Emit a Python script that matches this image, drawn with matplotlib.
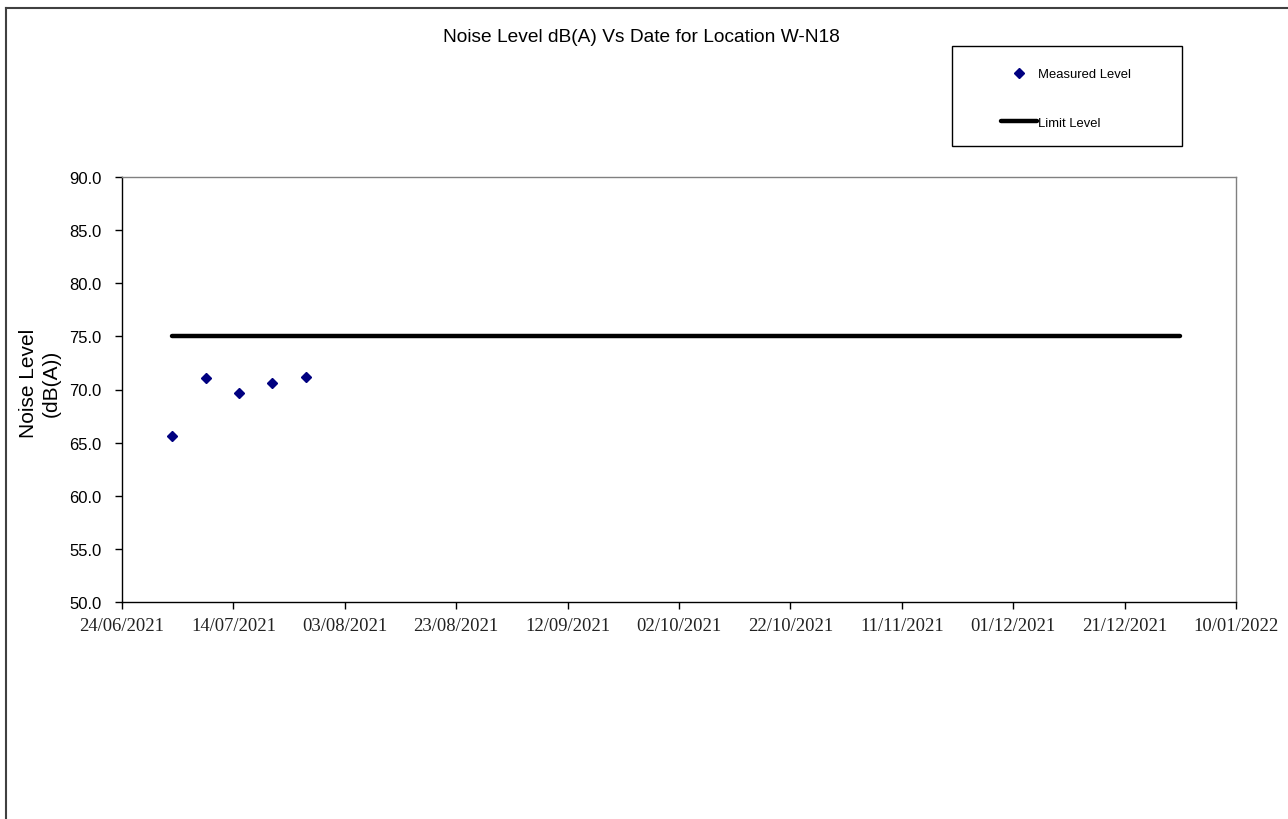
import pandas as pd
import matplotlib.pyplot as plt
import matplotlib.dates as mdates
from matplotlib.patches import Rectangle
from matplotlib.lines import Line2D

# measured data
measure_dates = pd.to_datetime(['2021-07-03', '2021-07-09', '2021-07-15',
                                '2021-07-21', '2021-07-27'])
measured_level = [65.6, 71.1, 69.7, 70.6, 71.2]

# limit line
limit_dates = pd.to_datetime(['2021-07-03', '2021-12-31'])
limit_level = [75.0, 75.0]

x_start = pd.Timestamp('2021-06-24')
x_end = pd.Timestamp('2022-01-10')
x_ticks = pd.date_range(x_start, x_end, freq='20D')
y_ticks = [50, 55, 60, 65, 70, 75, 80, 85, 90]

W, H = 1288, 820
fig = plt.figure(figsize=(W / 100, H / 100), dpi=100)
fig.patch.set_facecolor('white')

ax = fig.add_axes([122 / W, 1 - 603 / H, (1236 - 122) / W, (603 - 178) / H])

limit_line, = ax.plot(limit_dates, limit_level, color='black', linewidth=3.2,
                      solid_capstyle='round', label='Limit Level', zorder=3)
meas_pts, = ax.plot(measure_dates, measured_level, linestyle='none', marker='D',
                    markersize=4.6, color='#000080', label='Measured Level', zorder=4)

ax.set_xlim(x_start, x_end)
ax.set_ylim(50, 90)
ax.set_xticks(x_ticks)
ax.xaxis.set_major_formatter(mdates.DateFormatter('%d/%m/%Y'))
ax.set_yticks(y_ticks)
ax.set_yticklabels([f'{v:.1f}' for v in y_ticks])

for lab in ax.get_xticklabels():
    lab.set_fontfamily('Liberation Serif')
    lab.set_fontsize(13.4)
    lab.set_color('#222222')
for lab in ax.get_yticklabels():
    lab.set_fontfamily('Liberation Sans')
    lab.set_fontsize(12)

ax.tick_params(axis='x', direction='out', length=5, width=1, pad=6, top=False)
ax.tick_params(axis='y', direction='out', length=5, width=1, pad=10, right=False)

ax.spines['left'].set_color('black')
ax.spines['bottom'].set_color('black')
ax.spines['top'].set_color('#808080')
ax.spines['right'].set_color('#808080')
for s in ax.spines.values():
    s.set_linewidth(1)

ax.set_ylabel('Noise Level\n(dB(A))', fontfamily='Liberation Sans', fontsize=15,
              linespacing=1.3, va='center')
ax.yaxis.set_label_coords((40 - 122) / 1114, 0.516)

fig.text(641 / W, 1 - 38 / H, 'Noise Level dB(A) Vs Date for Location W-N18',
         ha='center', va='center', fontfamily='Liberation Sans', fontsize=13.8)

# legend box
fig.add_artist(Rectangle((952 / W, 1 - 147 / H), 230 / W, 100 / H,
                         transform=fig.transFigure, fill=False,
                         edgecolor='black', linewidth=1))
leg = fig.legend(handles=[meas_pts, limit_line], loc='upper left',
                 bbox_to_anchor=(1001 / W, 1 - 69 / H), frameon=False,
                 prop={'family': 'Liberation Sans', 'size': 9.4},
                 handlelength=2.73, handletextpad=0.12, borderpad=0,
                 labelspacing=2.8, borderaxespad=0)

# outer border
fig.add_artist(Line2D([5.5 / W, 5.5 / W], [0, 1 - 9 / H], transform=fig.transFigure,
                      color='#404040', linewidth=1.5))
fig.add_artist(Line2D([5.5 / W, 1], [1 - 9 / H, 1 - 9 / H], transform=fig.transFigure,
                      color='#404040', linewidth=1.5))

fig.savefig('out.png', dpi=100, facecolor='white')
